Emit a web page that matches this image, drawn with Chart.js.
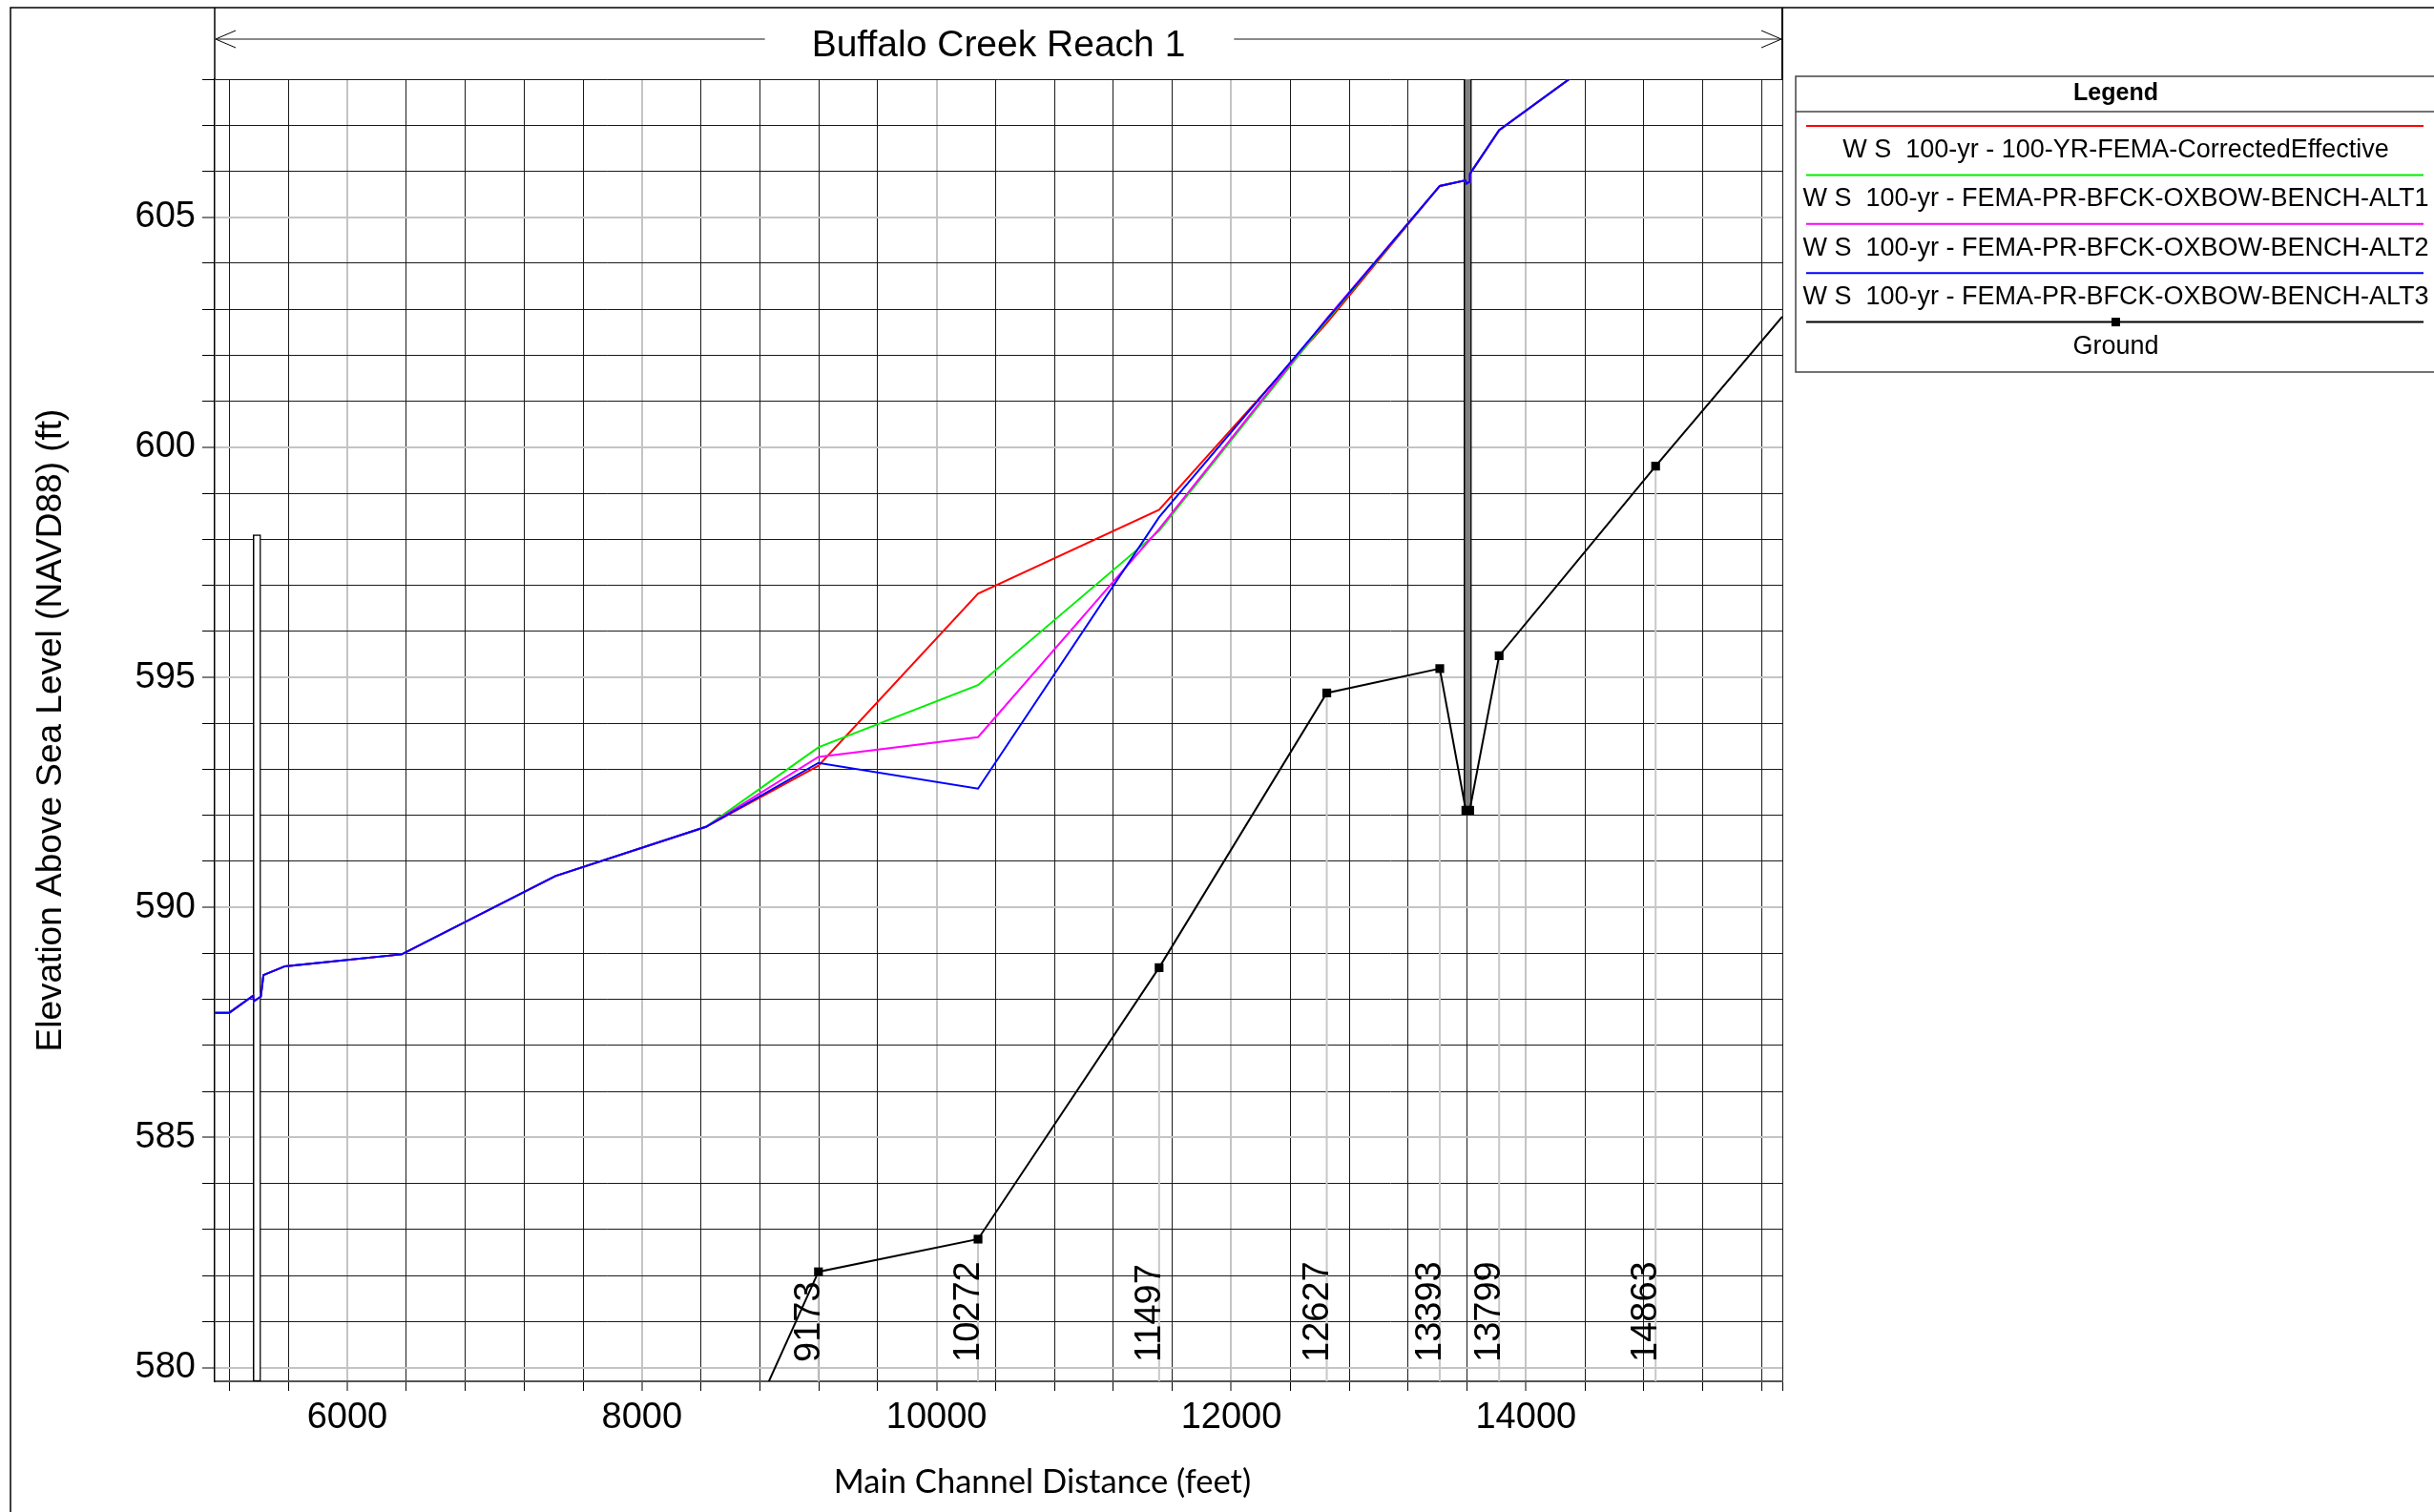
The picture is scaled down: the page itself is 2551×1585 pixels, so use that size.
<!DOCTYPE html>
<html>
<head>
<meta charset="utf-8">
<script src="https://cdn.jsdelivr.net/npm/chart.js@4.4.1/dist/chart.umd.min.js"></script>
<style>
  html, body { margin: 0; padding: 0; background: #ffffff; }
  canvas { display: block; }
</style>
</head>
<body>
<canvas id="chart" width="2551" height="1585"></canvas>
<script>
// ------------------------------------------------------------------
// Data
// ------------------------------------------------------------------
const chartTitle = 'Buffalo Creek Reach 1';
const xAxisTitle = 'Main Channel Distance (feet)';
const yAxisTitle = 'Elevation Above Sea Level (NAVD88) (ft)';

const seriesNames = [
  'W S  100-yr - 100-YR-FEMA-CorrectedEffective',
  'W S  100-yr - FEMA-PR-BFCK-OXBOW-BENCH-ALT1',
  'W S  100-yr - FEMA-PR-BFCK-OXBOW-BENCH-ALT2',
  'W S  100-yr - FEMA-PR-BFCK-OXBOW-BENCH-ALT3',
  'Ground'
];
const seriesColors = ['#ff0000', '#00ee00', '#ff00ff', '#0000ff', '#000000'];

// water-surface profiles (main channel distance, ft)
const wsStations = [5100, 5199, 5361, 5366, 5413, 5431, 5577, 6370, 7412, 8434,
                    9198, 10281, 11510, 12648, 13415, 13589, 13597, 13617, 13619, 13818, 14323];
const wsEffective = [587.71, 587.71, 588.08, 587.96, 588.06, 588.53, 588.72, 588.98, 590.68, 591.75,
                     593.08, 596.82, 598.64, 602.70, 605.68, 605.80, 605.73, 605.77, 605.94, 606.89, 608.07];
const wsAlt1 = [587.71, 587.71, 588.08, 587.96, 588.06, 588.53, 588.72, 588.98, 590.68, 591.75,
                593.48, 594.83, 598.18, 602.76, 605.68, 605.80, 605.73, 605.77, 605.94, 606.89, 608.07];
const wsAlt2 = [587.71, 587.71, 588.08, 587.96, 588.06, 588.53, 588.72, 588.98, 590.68, 591.75,
                593.27, 593.70, 598.22, 602.80, 605.68, 605.80, 605.73, 605.77, 605.94, 606.89, 608.07];
const wsAlt3 = [587.71, 587.71, 588.08, 587.96, 588.06, 588.53, 588.72, 588.98, 590.68, 591.75,
                593.14, 592.58, 598.48, 602.78, 605.68, 605.80, 605.73, 605.77, 605.94, 606.89, 608.07];

// ground (channel invert) profile
const groundStations = [8860, 9198, 10281, 11510, 12648, 13415, 13592, 13618, 13818, 14880, 15740];
const groundElev     = [579.69, 582.08, 582.79, 588.69, 594.66, 595.19, 592.11, 592.11, 595.47, 599.59, 602.84];
const sectionLabels  = ['', '9173', '10272', '11497', '12627', '13393', '', '', '13799', '14863', ''];

// structures
const bridgeStation = 13605, bridgeLow = 592.11, bridgeHigh = 608.1;
const culvertStation = 5387, culvertLow = 579.7, culvertHigh = 598.1;

// axes
const xMin = 5100, xMax = 15740, xGridStep = 400;
const yMin = 579.7, yMax = 608, yGridStep = 1;
const xTickLabels = [6000, 8000, 10000, 12000, 14000];
const yTickLabels = [580, 585, 590, 595, 600, 605];

// ------------------------------------------------------------------
const pts = (xs, ys) => xs.map((x, i) => ({ x: x, y: ys[i] }));
const xGrid = [];
for (let v = Math.ceil(xMin / xGridStep) * xGridStep; v < xMax; v += xGridStep) xGrid.push(v);
xGrid.push(xMax);
const yGrid = [];
for (let v = Math.ceil(yMin); v <= yMax; v += yGridStep) yGrid.push(v);

const SANS = "'Liberation Sans', Arial, sans-serif";

Chart.defaults.font.family = SANS;
Chart.defaults.color = '#000';

const sectionBars = [];
sectionLabels.forEach((s, i) => {
  if (s) sectionBars.push({ x: groundStations[i], y: [yMin, groundElev[i]] });
});

const lineDs = (k, data, order) => ({
  type: 'line', label: seriesNames[k], data: data, borderColor: seriesColors[k],
  backgroundColor: seriesColors[k], borderWidth: 2, pointRadius: 0, tension: 0,
  fill: false, order: order, inLegend: true
});

const datasets = [
  lineDs(0, pts(wsStations, wsEffective), 4),
  lineDs(1, pts(wsStations, wsAlt1), 3),
  lineDs(2, pts(wsStations, wsAlt2), 2),
  lineDs(3, pts(wsStations, wsAlt3), 1),
  {
    type: 'line', label: seriesNames[4], data: pts(groundStations, groundElev),
    borderColor: '#000', backgroundColor: '#000', borderWidth: 2, tension: 0,
    pointStyle: 'rect',
    pointRadius: groundStations.map((x, i) => (i === 0 || i === groundStations.length - 1) ? 0 : 6.5),
    pointBackgroundColor: '#000', pointBorderColor: '#000', pointBorderWidth: 0,
    order: 5, inLegend: true, legendMarker: true
  },
  {
    type: 'bar', label: 'Section lines', data: sectionBars, grouped: false,
    barThickness: 2, backgroundColor: '#c8c8c8', borderWidth: 0, order: 9, inflateAmount: 0
  },
  {
    type: 'bar', label: 'Culvert', data: [{ x: culvertStation, y: [culvertLow, culvertHigh] }],
    grouped: false, barThickness: 8, backgroundColor: '#ffffff', borderColor: '#000',
    borderWidth: 1.5, borderSkipped: false, order: 8
  },
  {
    type: 'bar', label: 'Bridge', data: [{ x: bridgeStation, y: [bridgeLow, bridgeHigh] }],
    grouped: false, barThickness: 8, backgroundColor: '#808080', borderColor: '#000',
    borderWidth: 1.5, borderSkipped: false, order: 7
  }
];

// ------------------------------------------------------------------
const decorPlugin = {
  id: 'decor',
  afterDraw(chart) {
    const ctx = chart.ctx, a = chart.chartArea, W = chart.width, H = chart.height;
    ctx.save();
    // outer frame (top / left)
    ctx.strokeStyle = '#000'; ctx.lineWidth = 1.5;
    ctx.beginPath(); ctx.moveTo(11, H); ctx.lineTo(11, 8); ctx.lineTo(W, 8); ctx.stroke();
    // reach bracket
    ctx.lineWidth = 1.5;
    ctx.beginPath(); ctx.moveTo(a.left, 8); ctx.lineTo(a.left, a.top); ctx.stroke();
    ctx.lineWidth = 2;
    ctx.beginPath(); ctx.moveTo(a.right, 8); ctx.lineTo(a.right, a.top); ctx.stroke();
    // title
    const cx = (a.left + a.right) / 2, ty = 48;
    ctx.font = '39px ' + SANS; ctx.fillStyle = '#000';
    ctx.textAlign = 'center'; ctx.textBaseline = 'middle';
    ctx.fillText(chartTitle, cx, ty);
    const tw = ctx.measureText(chartTitle).width;
    const ay = 41;
    ctx.strokeStyle = '#8a8a8a'; ctx.lineWidth = 2;
    ctx.beginPath();
    ctx.moveTo(a.left + 2, ay); ctx.lineTo(cx - tw / 2 - 49, ay);
    ctx.moveTo(cx + tw / 2 + 51, ay); ctx.lineTo(a.right - 2, ay);
    ctx.stroke();
    ctx.strokeStyle = '#000'; ctx.lineWidth = 1;
    ctx.beginPath();
    ctx.moveTo(a.left + 22, ay - 9); ctx.lineTo(a.left + 1, ay); ctx.lineTo(a.left + 22, ay + 9);
    ctx.moveTo(a.right - 22, ay - 9); ctx.lineTo(a.right - 1, ay); ctx.lineTo(a.right - 22, ay + 9);
    ctx.stroke();
    // x-axis title
    ctx.font = '34.5px Lato, ' + SANS;
    ctx.fillText(xAxisTitle, cx + 46, 1554);

    // legend box
    const L = a.right + 14, T = a.top - 3, R = W + 2, B = T + 310;
    const lx = (L + R) / 2;
    ctx.strokeStyle = '#444'; ctx.lineWidth = 1.5;
    ctx.strokeRect(L, T, R - L, B - T);
    ctx.beginPath(); ctx.moveTo(L, T + 37); ctx.lineTo(R, T + 37); ctx.stroke();
    ctx.fillStyle = '#000';
    ctx.font = 'bold 25px ' + SANS;
    ctx.fillText('Legend', lx, T + 18);
    const items = chart.data.datasets.filter(d => d.inLegend);
    items.forEach((d, i) => {
      const ly = T + 52 + i * 51.4;
      ctx.strokeStyle = d.borderColor; ctx.lineWidth = 2;
      ctx.beginPath(); ctx.moveTo(L + 11, ly); ctx.lineTo(R - 13, ly); ctx.stroke();
      if (d.legendMarker) { ctx.fillStyle = '#000'; ctx.fillRect(lx - 4.5, ly - 4.5, 9, 9); }
      ctx.fillStyle = '#000';
      ctx.font = '27px ' + SANS;
      ctx.fillText(d.label, lx, ly + 25.5);
    });
    ctx.restore();
  },
  afterDatasetsDraw(chart) {
    // river-station labels, rotated, at their cross sections
    const ctx = chart.ctx, a = chart.chartArea, xs = chart.scales.x;
    ctx.save();
    ctx.font = '38px ' + SANS;
    ctx.fillStyle = '#000'; ctx.textAlign = 'left'; ctx.textBaseline = 'alphabetic';
    sectionLabels.forEach((s, i) => {
      if (!s) return;
      const px = xs.getPixelForValue(groundStations[i]);
      ctx.save();
      ctx.translate(px + 1, a.bottom - 20);
      ctx.rotate(-Math.PI / 2);
      ctx.fillText(s, 0, 0);
      ctx.restore();
    });
    ctx.restore();
  }
};

new Chart(document.getElementById('chart'), {
  type: 'line',
  data: { datasets: datasets },
  options: {
    responsive: false,
    animation: false,
    events: [],
    layout: { padding: { left: 11, top: 83, right: 683, bottom: 0 } },
    plugins: { legend: { display: false }, tooltip: { enabled: false }, title: { display: false } },
    scales: {
      x: {
        type: 'linear', min: xMin, max: xMax, offset: false,
        afterBuildTicks: s => { s.ticks = xGrid.map(v => ({ value: v })); },
        afterFit: s => { s.height = 137; },
        ticks: {
          autoSkip: false, maxRotation: 0, minRotation: 0, padding: 6,
          font: { size: 38, family: SANS }, color: '#000',
          callback: v => xTickLabels.includes(v) ? String(v) : ''
        },
        grid: {
          offset: false, drawTicks: true, tickLength: 10, tickColor: '#000', tickWidth: 1,
          color: c => (c.tick && xTickLabels.includes(c.tick.value)) ? '#c4c4c4' : '#1a1a1a',
          lineWidth: c => (c.tick && xTickLabels.includes(c.tick.value)) ? 2 : 1
        },
        border: { display: true, color: '#555', width: 2 }
      },
      y: {
        type: 'linear', min: yMin, max: yMax,
        afterBuildTicks: s => { s.ticks = yGrid.map(v => ({ value: v })); },
        afterFit: s => { s.width = 214; },
        ticks: {
          autoSkip: false, padding: 7,
          font: { size: 38, family: SANS }, color: '#000',
          callback: v => yTickLabels.includes(v) ? String(v) : ''
        },
        grid: {
          drawTicks: true, tickLength: 13, tickColor: '#000', tickWidth: 1,
          color: c => (c.tick && yTickLabels.includes(c.tick.value)) ? '#c4c4c4' : '#1a1a1a',
          lineWidth: c => (c.tick && yTickLabels.includes(c.tick.value)) ? 2 : 1
        },
        border: { display: true, color: '#000', width: 1.5 },
        title: {
          display: true, text: yAxisTitle, color: '#000',
          font: { size: 37, family: SANS }, padding: { top: 21, bottom: 0 }
        }
      }
    }
  },
  plugins: [decorPlugin]
});
</script>
</body>
</html>
